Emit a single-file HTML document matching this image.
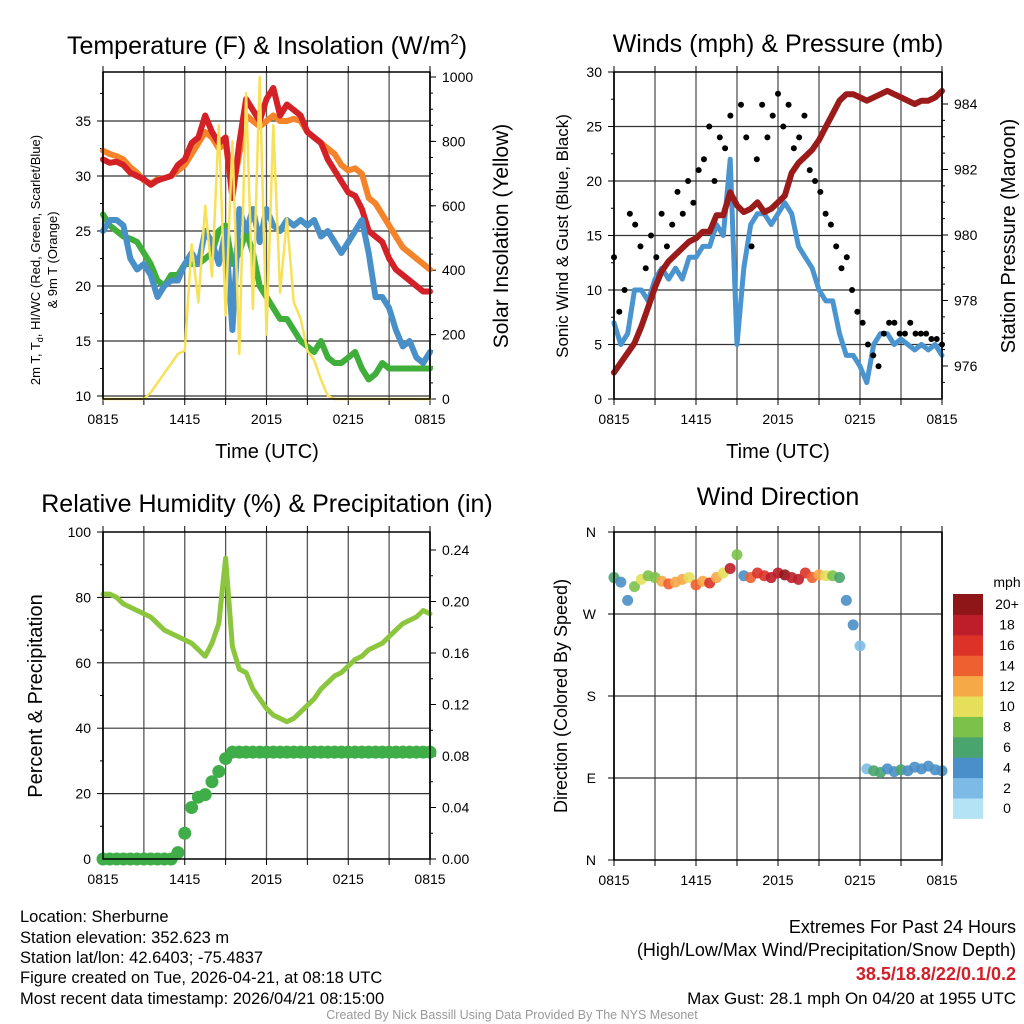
<!DOCTYPE html>
<html><head><meta charset="utf-8"><style>
html,body{margin:0;padding:0;background:#fff;}
svg{display:block;font-family:"Liberation Sans",sans-serif;}
</style></head><body>
<svg id="fig" width="1024" height="1024" viewBox="0 0 1024 1024" xmlns="http://www.w3.org/2000/svg">
<g font-size="25" text-anchor="middle" fill="#000">
<text x="267" y="54">Temperature (F) &amp; Insolation (W/m<tspan font-size="15" dy="-10">2</tspan><tspan dy="10">)</tspan></text>
<text x="778" y="52">Winds (mph) &amp; Pressure (mb)</text>
<text x="267" y="512">Relative Humidity (%) &amp; Precipitation (in)</text>
<text x="778" y="505">Wind Direction</text>
</g>
<g font-size="16.5" fill="#000">
<text x="20" y="922">Location: Sherburne</text>
<text x="20" y="943">Station elevation: 352.623 m</text>
<text x="20" y="963">Station lat/lon: 42.6403; -75.4837</text>
<text x="20" y="983">Figure created on Tue, 2026-04-21, at 08:18 UTC</text>
<text x="20" y="1004">Most recent data timestamp: 2026/04/21 08:15:00</text>
<g text-anchor="end" font-size="18">
<text x="1016" y="933">Extremes For Past 24 Hours</text>
<text x="1016" y="956">(High/Low/Max Wind/Precipitation/Snow Depth)</text>
<text x="1016" y="980" fill="#d0202a" font-weight="bold">38.5/18.8/22/0.1/0.2</text>
<text x="1016" y="1004" font-size="17">Max Gust: 28.1 mph On 04/20 at 1955 UTC</text>
</g>
<text x="512" y="1019" text-anchor="middle" font-size="12.5" fill="#999">Created By Nick Bassill Using Data Provided By The NYS Mesonet</text>
</g>
</svg>
<script>
// ---------- data (half-hourly from 0815 UTC) ----------
const xTickLabels = ["0815","1415","2015","0215","0815"];
const tempRed = [31.5,31.2,31.3,31,30.3,30,29.7,29.2,29.6,29.8,30,31,31.5,33,33.5,35.5,34,33,33.5,28,33,37,36,35,37,38,35.5,36.5,36,35.5,34,33.5,33,31.5,30.5,29.5,28.5,28.2,27,25,24.5,24,22.5,21.5,21,20.5,20,19.5,19.5];
const temp9m = [32.3,32,31.8,31.5,30.8,30.3,29.6,29.3,29.7,29.8,30,30.5,31,32,33,34,33.5,32.5,33,28.5,32,35.5,35,34.5,35,35.5,35,35,35.2,35,34,33.5,33,32.5,32,31,30.5,30.7,30.2,28,27.5,26.5,25.5,24.5,23.5,23,22.5,22,21.5];
const dewpt = [26.5,25.5,25,24.5,24.3,24,23,22,20.5,20,21,21,22,22,22,22.5,23,25,25.5,22,23,25,23,20,19,18,17,17,16,15,14.5,14,15,13.5,13,13,13.5,14,12.5,11.5,12,13,12.5,12.5,12.5,12.5,12.5,12.5,12.5];
const windChill = [25,26,26,25.5,22.5,21.5,22,21,19,20,20.5,20.5,22,23,22,25,24,22,25,16,27,25,27,24,27,25.5,25,26,25.5,26,25.5,26,24.5,25,24,23,24,25,26,23,19,19,18,16,14.5,15,13.5,13,14];
const solar = [0,0,0,0,0,0,0,20,50,80,110,140,150,480,300,600,380,850,260,800,140,950,280,1000,200,850,330,560,300,250,150,120,60,10,0,0,0,0,0,0,0,0,0,0,0,0,0,0,0];
const windSpd = [7,5,6,10,10,9,11,12,11,12,11,13,13,14,14,16,15,22,5,12,16,17,17,16,17,18,17,14,13,12,10,9,9,6,4,4,3,1.5,5,6,6,5,5.5,5,4.5,5,4.5,5,4];
const gust = [13,8,10,17,16,14,12,15,13,17,14,16,19,17,20,18,21,22,25,20,24,23,26,18,27,24,14,22,27,24,26,28,25,27,23,24,26,21,20,19,17,16,14,12,13,10,8,7,5,4,3,6,7,7,6,6,7,6,6,6,5.5,5.5,5];
const pressure = [975.8,976.1,976.4,976.7,977.2,977.8,978.4,978.9,979.2,979.4,979.6,979.8,979.9,980.1,980.1,980.6,980.6,981.3,980.9,980.7,980.8,981,980.7,980.8,981,981.2,981.9,982.2,982.4,982.6,982.9,983.3,983.7,984.1,984.3,984.3,984.2,984.1,984.2,984.3,984.4,984.3,984.2,984.1,984,984.1,984.1,984.2,984.4];
const rh = [81,81,80,78,77,76,75,74,72,70,69,68,67,66,64,62,66,72,92,65,58,57,52,49,46,44,43,42,43,45,47,49,52,54,56,57,59,61,62,64,65,66,68,70,72,73,74,76,75];
const precip = [0,0,0,0,0,0,0,0,0,0,0,0.005,0.02,0.04,0.048,0.05,0.06,0.068,0.078,0.083,0.083,0.083,0.083,0.083,0.083,0.083,0.083,0.083,0.083,0.083,0.083,0.083,0.083,0.083,0.083,0.083,0.083,0.083,0.083,0.083,0.083,0.083,0.083,0.083,0.083,0.083,0.083,0.083,0.083];
const windDir = [310,305,285,300,308,312,310,306,303,305,308,310,302,306,304,310,315,320,335,312,310,315,312,310,315,313,310,308,315,310,313,312,312,310,285,258,235,100,98,96,100,97,99,98,102,100,103,99,98];
const dirSpeed = [6,5,4,8,10,9,8,12,14,13,12,11,14,13,16,12,10,19,8,4,14,17,16,18,19,20,19,18,16,14,12,10,8,6,5,4,3,2,6,7,5,4,6,4,5,4,4,5,4];
const tempTicks = [10,15,20,25,30,35];
const solarTicks = [0,200,400,600,800,1000];
const windTicks = [0,5,10,15,20,25,30];
const presTicks = [976,978,980,982,984];
const rhTicks = [0,20,40,60,80,100];
const precipTicks = ["0.00","0.04","0.08","0.12","0.16","0.20","0.24"];
const dirTicks = ["N","E","S","W","N"];
const cbLabels = ["0","2","4","6","8","10","12","14","16","18","20+"];
const cbColors = ["#b5e3f6","#7dbbe6","#4a8fc7","#4aa46e","#7cc24a","#e6df5a","#f5a947","#ee6030","#dc3228","#bd1e2a","#8e1618"];

const NS="http://www.w3.org/2000/svg";
const svg=document.getElementById('fig');
function el(tag,attrs,parent){const e=document.createElementNS(NS,tag);for(const k in attrs)e.setAttribute(k,attrs[k]);(parent||svg).appendChild(e);return e;}
function lin(d0,d1,r0,r1){return v=>r0+(v-d0)*(r1-r0)/(d1-d0);}

function panel(name,x0,x1,y0,y1){
  const g=el('g',{});
  
  
  const xs=lin(0,24,x0,x1);
  for(let h=0;h<=24;h+=3){
    const l=el('line',{x1:xs(h),x2:xs(h),y1:y0,y2:y1,stroke:h%24==0?'#000':'#555','stroke-width':h%24==0?1.5:1.3},g);
    
    
    el('line',{x1:xs(h),x2:xs(h),y1:y0-6,y2:y0,stroke:'#000'},g);
    el('line',{x1:xs(h),x2:xs(h),y1:y1,y2:y1+6,stroke:'#000'},g);
  }
  xTickLabels.forEach((s,i)=>{
    const t=el('text',{x:xs(i*6),y:y1+25,'text-anchor':'middle','font-size':14},g);
    t.textContent=s;
    
    
  });
  return {g,xs};
}
function hgrid(g,y,x0,x1){
  const l=el('line',{x1:x0,x2:x1,y1:y,y2:y,stroke:'#333','stroke-width':1.2},g);
  
  
}
function ylab(g,x,y,s,anchor){
  const t=el('text',{x:x,y:y+5,'text-anchor':anchor,'font-size':14},g);
  t.textContent=s;
  
  
}
function ticks(g,x,y,dir,len){el('line',{x1:x,x2:x+dir*len,y1:y,y2:y,stroke:'#000'},g);}
function poly(g,arr,xs,ys,color,w,name){
  const n=arr.length;
  const pts=arr.map((v,i)=>xs(i*24/(n-1)).toFixed(1)+','+ys(v).toFixed(1)).join(' ');
  const p=el('polyline',{points:pts,fill:'none',stroke:color,'stroke-width':w,'stroke-linejoin':'round','stroke-linecap':'round'},g);
  
  
}
function box(g,x0,x1,y0,y1){el('rect',{x:x0,y:y0,width:x1-x0,height:y1-y0,fill:'none',stroke:'#000','stroke-width':1.5},g);}
function rotText(g,x,y,s,size,name){
  const t=el('text',{x:0,y:0,transform:`translate(${x},${y}) rotate(-90)`,'text-anchor':'middle','font-size':size},g);
  t.textContent=s;
  
  
  return t;
}

// ---------- Panel 1 ----------
(function(){
  const X0=103,X1=430,Y0=72,Y1=399;
  const {g,xs}=panel('temperature-panel',X0,X1,Y0,Y1);
  const yT=lin(10,35,396,121), yS=lin(0,1000,399,77);
  tempTicks.forEach(v=>{hgrid(g,yT(v),X0,X1);ticks(g,X0,yT(v),-1,6);ylab(g,X0-12,yT(v),String(v),'end');});
  for(let v=12.5;v<39;v+=2.5){ticks(g,X0,yT(v),-1,3);}
  solarTicks.forEach(v=>{ticks(g,X1,yS(v),1,6);ylab(g,X1+12,yS(v),String(v),'start');});
  for(let v=50;v<1020;v+=50){ticks(g,X1,yS(v),1,3);}
  poly(g,temp9m,xs,yT,'#f5832a',6,'9m-temperature-line');
  poly(g,tempRed,xs,yT,'#d42027',6,'2m-temperature-line');
  poly(g,dewpt,xs,yT,'#3fae3a',6,'dewpoint-line');
  poly(g,windChill,xs,yT,'#4a90c8',6,'wind-chill-line');
  poly(g,solar,xs,yS,'#f7e15a',2.5,'solar-insolation-line');
  box(g,X0,X1,Y0,Y1);
  const t=el('text',{x:0,y:0,transform:'translate(40,260) rotate(-90)','text-anchor':'middle','font-size':13},g);
  t.innerHTML='2m T, T<tspan font-size="9" dy="3">d</tspan><tspan dy="-3">, HI/WC (Red, Green, Scarlet/Blue)</tspan>';
  
  
  rotText(g,57,260,'& 9m T (Orange)',13,'temperature-y-axis-subtitle');
  rotText(g,508,236,'Solar Insolation (Yellow)',21,'solar-y-axis-title');
  const xt=el('text',{x:267,y:458,'text-anchor':'middle','font-size':20},g);
  xt.textContent='Time (UTC)';
  
  
})();

// ---------- Panel 2 ----------
(function(){
  const X0=614,X1=942,Y0=72,Y1=399;
  const {g,xs}=panel('wind-panel',X0,X1,Y0,Y1);
  const yW=lin(0,30,399,72), yP=lin(976,984,366,104);
  windTicks.forEach(v=>{if(v>0&&v<30)hgrid(g,yW(v),X0,X1);ticks(g,X0,yW(v),-1,6);ylab(g,X0-12,yW(v),String(v),'end');});
  for(let v=2.5;v<30;v+=5){ticks(g,X0,yW(v),-1,3);}
  presTicks.forEach(v=>{ticks(g,X1,yP(v),1,6);ylab(g,X1+12,yP(v),String(v),'start');});
  for(let v=975.5;v<984.2;v+=0.5){ticks(g,X1,yP(v),1,3);}
  poly(g,windSpd,xs,yW,'#4a94cf',5,'sustained-wind-line');
  const n=gust.length;
  gust.forEach((v,i)=>{
    const c=el('circle',{cx:xs(i*24/(n-1)),cy:yW(v),r:3,fill:'#000'},g);
    
    
  });
  poly(g,pressure,xs,yP,'#9b1b1b',6,'pressure-line');
  box(g,X0,X1,Y0,Y1);
  rotText(g,568,236,'Sonic Wind & Gust (Blue, Black)',17,'wind-y-axis-title');
  rotText(g,1015,236,'Station Pressure (Maroon)',20,'pressure-y-axis-title');
  const xt=el('text',{x:778,y:458,'text-anchor':'middle','font-size':20},g);
  xt.textContent='Time (UTC)';
  
  
})();

// ---------- Panel 3 ----------
(function(){
  const X0=103,X1=430,Y0=532,Y1=859;
  const {g,xs}=panel('humidity-panel',X0,X1,Y0,Y1);
  const yR=lin(0,100,859,532), yP=lin(0,0.24,859,550);
  rhTicks.forEach(v=>{if(v>0&&v<100)hgrid(g,yR(v),X0,X1);ticks(g,X0,yR(v),-1,6);ylab(g,X0-12,yR(v),String(v),'end');});
  for(let v=10;v<100;v+=20){ticks(g,X0,yR(v),-1,3);}
  precipTicks.forEach(s=>{const v=parseFloat(s);ticks(g,X1,yP(v),1,6);ylab(g,X1+12,yP(v),s,'start');});
  for(let v=0.02;v<0.25;v+=0.04){ticks(g,X1,yP(v),1,3);}
  poly(g,rh,xs,yR,'#8cc63f',5,'relative-humidity-line');
  const n=precip.length;
  precip.forEach((v,i)=>{
    const c=el('circle',{cx:xs(i*24/(n-1)),cy:yP(v),r:6.5,fill:'#3fae49'},g);
    
    
  });
  box(g,X0,X1,Y0,Y1);
  rotText(g,42,696,'Percent & Precipitation',20,'humidity-y-axis-title');
})();

// ---------- Panel 4 ----------
(function(){
  const X0=614,X1=942,Y0=532,Y1=860;
  const {g,xs}=panel('direction-panel',X0,X1,Y0,Y1);
  const yD=lin(0,360,860,532);
  dirTicks.forEach((s,i)=>{const v=i*90;if(v>0&&v<360)hgrid(g,yD(v),X0,X1);ticks(g,X0,yD(v),-1,6);ylab(g,X0-18,yD(v),s,'end');});
  const n=windDir.length;
  function col(s){let k=Math.min(10,Math.max(0,Math.floor(s/2)));return cbColors[k];}
  windDir.forEach((v,i)=>{
    const c=el('circle',{cx:xs(i*24/(n-1)),cy:yD(v),r:5.5,fill:col(dirSpeed[i]),'fill-opacity':0.9},g);
    
    
  });
  box(g,X0,X1,Y0,Y1);
  rotText(g,567,696,'Direction (Colored By Speed)',18,'direction-y-axis-title');
  const cb=el('g',{},svg);
  
  
  const top=594,h=20.4;
  cbColors.forEach((c,i)=>{
    const yy=top+(10-i)*h;
    const r=el('rect',{x:953,y:yy,width:30,height:h+0.5,fill:c},cb);
    
    
    const t=el('text',{x:1007,y:yy+h/2+5,'text-anchor':'middle','font-size':14},cb);
    t.textContent=cbLabels[i];
    
    
  });
  const u=el('text',{x:1007,y:587,'text-anchor':'middle','font-size':14},cb);
  u.textContent='mph';
  
  
})();
</script>
</body></html>
